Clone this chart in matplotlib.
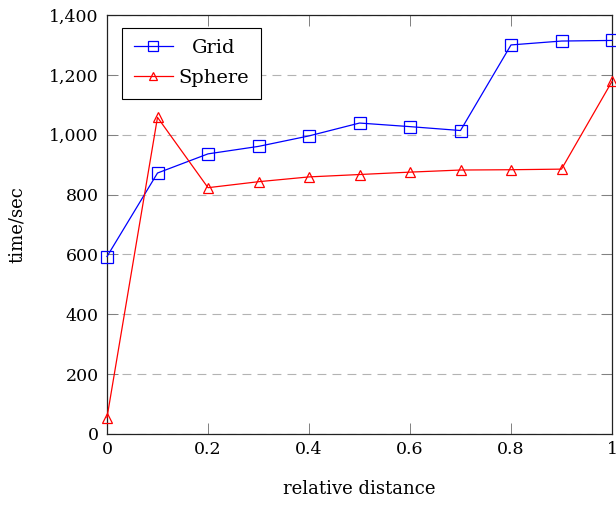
import matplotlib
matplotlib.use("Agg")
import matplotlib.pyplot as plt
from matplotlib.ticker import FuncFormatter

x = [0, 0.1, 0.2, 0.3, 0.4, 0.5, 0.6, 0.7, 0.8, 0.9, 1.0]
grid = [593, 872, 936, 961, 996, 1039, 1027, 1014, 1300, 1313, 1315]
sphere = [55, 1058, 823, 843, 859, 867, 875, 882, 883, 885, 1178]
xticks = [0, 0.2, 0.4, 0.6, 0.8, 1.0]
xticklabels = ["0", "0.2", "0.4", "0.6", "0.8", "1"]
yticks = [0, 200, 400, 600, 800, 1000, 1200, 1400]

plt.rcParams['font.family'] = ['DejaVu Serif']
fs = 12.5

fig = plt.figure(figsize=(6.16, 5.05), dpi=100)
ax = fig.add_axes([107/616, 1 - 434/505, (612 - 107)/616, (434 - 15)/505])

ax.plot(x, grid, color=(0, 0, 1), lw=0.9, marker='s', markersize=8.5,
        markerfacecolor='none', markeredgewidth=0.9, label='Grid', clip_on=False, zorder=3)
ax.plot(x, sphere, color=(1, 0, 0), lw=0.9, marker='^', markersize=7.5,
        markerfacecolor='none', markeredgewidth=0.9, label='Sphere', clip_on=False, zorder=3)

ax.set_xlim(0, 1)
ax.set_ylim(0, 1400)
ax.set_xticks(xticks)
ax.set_xticklabels(xticklabels)
ax.set_yticks(yticks)
ax.yaxis.set_major_formatter(FuncFormatter(lambda v, p: f"{int(v):,}"))
ax.tick_params(direction='in', top=True, right=True, length=8, width=0.7,
               color='#808080', labelsize=fs)
ax.tick_params(axis='y', pad=6)
ax.tick_params(axis='x', pad=5)
ax.yaxis.grid(True, linestyle=(0, (8, 5.5)), color='#b3b3b3', lw=0.8)
ax.set_axisbelow(True)
for s in ax.spines.values():
    s.set_linewidth(0.9)
    s.set_color('#222222')

ax.set_xlabel('relative distance', fontsize=13, labelpad=16)
ax.set_ylabel('time/sec', fontsize=13, labelpad=17)

leg = ax.legend(loc='upper left', bbox_to_anchor=(0.03, 0.97), fontsize=14,
                frameon=True, fancybox=False, edgecolor='black', framealpha=1,
                handlelength=2.0, borderpad=0.6, labelspacing=0.6, handletextpad=0.3,
                borderaxespad=0.0, markerscale=0.85)
leg.get_frame().set_linewidth(0.8)

# centre the legend labels within their column (as in the reference)
fig.canvas.draw()
r = fig.canvas.get_renderer()
widths = [t.get_window_extent(r).width for t in leg.texts]
wmax = max(widths)
for t, w in zip(leg.texts, widths):
    t.set_x((wmax - w) / 2)

fig.savefig('out.png', dpi=100)
